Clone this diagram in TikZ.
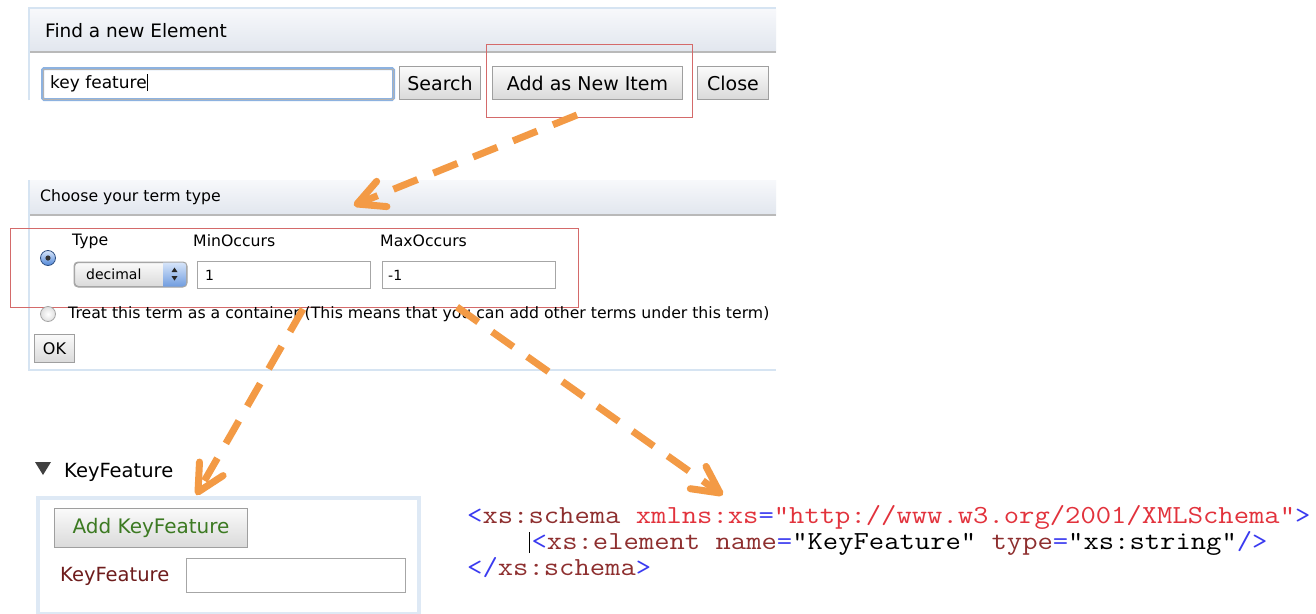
\documentclass[tikz,border=0pt]{standalone}
\usepackage{fontspec}
\setmainfont{DejaVu Sans}
\usetikzlibrary{calc}
\definecolor{arrorange}{HTML}{F39A45}
\definecolor{redbox}{HTML}{D46A6A}
\definecolor{panelblue}{HTML}{D6E4F2}
\definecolor{hdrtop}{HTML}{F7F8FB}
\definecolor{hdrbot}{HTML}{E1E6EE}
\definecolor{btntop}{HTML}{FAFAFA}
\definecolor{btnbot}{HTML}{DADADA}
\definecolor{glowblue}{HTML}{8DB2E0}
\definecolor{radiotop}{HTML}{D8E6FA}
\definecolor{radiobot}{HTML}{4F86D8}
\definecolor{xmlblue}{HTML}{3A3AF0}
\definecolor{xmlbrown}{HTML}{8E2F2F}
\definecolor{xmlred}{HTML}{E2323C}
\definecolor{greentxt}{HTML}{3C7A22}
\definecolor{darkredtxt}{HTML}{6E1C1C}
\tikzset{
  panelhdr/.style={draw=none, top color=hdrtop, bottom color=hdrbot, anchor=north west, inner sep=0pt},
  btn/.style={draw=gray!75, line width=1pt, top color=btntop, bottom color=btnbot, anchor=north west, inner sep=0pt, font=\fontsize{19}{22}\selectfont},
  inbox/.style={draw=gray!70, line width=1.2pt, fill=white, anchor=north west, inner sep=0pt},
  redframe/.style={draw=redbox, line width=1pt, anchor=north west, inner sep=0pt},
  lbl/.style={anchor=west, inner sep=0pt, font=\fontsize{15.7}{18}\selectfont},
  arr/.style={draw=arrorange, line width=7pt, dash pattern=on 26pt off 17pt, shorten >=3pt},
  arrtip/.style={draw=arrorange, line width=7pt, line cap=round, line join=round},
  xmlline/.style={anchor=base west, inner sep=0pt, xscale=1.145, font=\ttfamily\fontsize{26}{26}\selectfont},
}
\begin{document}
\begin{tikzpicture}[x=1pt,y=-1pt]
\useasboundingbox[fill=white] (0,0) rectangle (1316,613);

% ---------- Panel 1 ----------
\draw[panelblue, line width=2pt] (29,100) -- (29,8) -- (776,8);
\node[panelhdr, minimum width=746, minimum height=43] (hdr1) at (30,9) {};
\draw[gray!55, line width=1.2pt] (30,52) -- (776,52);
\node[anchor=west, inner sep=0pt, font=\fontsize{18.5}{21}\selectfont] (t1) at (45,31) {Find a new Element};
\node[draw=glowblue, line width=3pt, rounded corners=1.5pt, fill=white, anchor=north west, inner sep=0pt,
      minimum width=351, minimum height=31] (search_in) at (41,67) {};
\draw[gray!60, line width=0.8pt] ([shift={(2,2)}]search_in.north west) rectangle ([shift={(-2,-2)}]search_in.south east);
\node[anchor=west, inner sep=0pt, font=\fontsize{17}{20}\selectfont] (kf) at (50,83) {key feature\rule[-3pt]{1pt}{17pt}};
\node[btn, minimum width=81, minimum height=33] (searchb) at (399,66) {Search};
\node[btn, minimum width=190, minimum height=33] (addb) at (492,66) {Add as New Item};
\node[btn, minimum width=71, minimum height=33] (closeb) at (697,66) {Close};
\node[redframe, minimum width=206, minimum height=73] (red1) at (486,44) {};

% ---------- Panel 2 ----------
\node[panelhdr, minimum width=747, minimum height=35] (hdr2) at (29,180) {};
\draw[gray!55, line width=1.2pt] (29,215) -- (776,215);
\node[anchor=west, inner sep=0pt, font=\fontsize{15.7}{18}\selectfont] (t2) at (40,197) {Choose your term type};
\draw[panelblue, line width=1.5pt] (29,180) -- (29,370) -- (776,370);
% selected radio
\node[circle, draw=radiobot!60!black, line width=0.8pt, top color=radiotop, bottom color=radiobot, minimum size=15, inner sep=0pt] (radio1) at (48,258) {};
\fill[black!80] (radio1.center) circle (2.6);
\node[lbl] (ltype) at (72,241) {Type};
\node[lbl] (lmin) at (193,241) {MinOccurs};
\node[lbl] (lmax) at (380,241) {MaxOccurs};
% dropdown
\node[draw=gray!70, line width=1pt, rounded corners=4pt, top color=btntop, bottom color=btnbot, anchor=north west, inner sep=0pt,
      minimum width=112, minimum height=24] (dropdown) at (74,262) {};
\begin{scope}
  \clip[rounded corners=4pt] (dropdown.north west) rectangle (dropdown.south east);
  \fill[top color=radiotop, bottom color=radiobot!80] (163,262) rectangle (186,286);
\end{scope}
\draw[gray!70, line width=1pt, rounded corners=4pt] (dropdown.north west) rectangle (dropdown.south east);
\fill[black!85] (174.5,267.5) -- (171.5,272) -- (177.5,272) -- cycle;
\fill[black!85] (174.5,280.5) -- (171.5,276) -- (177.5,276) -- cycle;
\node[anchor=west, inner sep=0pt, font=\fontsize{14}{16}\selectfont] (ddtxt) at (86,274) {decimal};
\node[inbox, minimum width=173, minimum height=27] (minbox) at (197,261) {};
\node[anchor=west, inner sep=0pt, font=\fontsize{14}{16}\selectfont] (minval) at (205,275) {1};
\node[inbox, minimum width=173, minimum height=27] (maxbox) at (382,261) {};
\node[anchor=west, inner sep=0pt, font=\fontsize{14}{16}\selectfont] (maxval) at (388,275) {-1};
\node[redframe, minimum width=568, minimum height=79] (red2) at (10,228) {};
% unselected radio
\node[circle, draw=gray!70, line width=0.8pt, inner color=white, outer color=gray!25, minimum size=15, inner sep=0pt] (radio2) at (48,314) {};
\node[lbl] (treat) at (68,314) {Treat this term as a container (This means that you can add other terms under this term)};
\node[btn, minimum width=40, minimum height=28, font=\fontsize{16}{18}\selectfont] (okb) at (34,334) {OK};

% ---------- Panel 3 ----------
\fill[black!75] (35,462) -- (51,462) -- (43,475) -- cycle;
\node[anchor=west, inner sep=0pt, font=\fontsize{19.5}{22}\selectfont] (kfhead) at (64,472) {KeyFeature};
\node[draw=panelblue!80, line width=4pt, anchor=north west, inner sep=0pt, minimum width=381, minimum height=116] (kfbox) at (36,496) {};
\node[btn, minimum width=193, minimum height=39, font=\fontsize{20}{23}\selectfont, text=greentxt] (addkf) at (54,508) {Add KeyFeature};
\node[anchor=west, inner sep=0pt, font=\fontsize{19.5}{22}\selectfont, text=darkredtxt] (kflabel) at (60,576) {KeyFeature};
\node[inbox, minimum width=219, minimum height=34] (kfin) at (186,558) {};

% ---------- XML ----------
\node[xmlline] (xml1) at (467,523) {\textcolor{xmlblue}{<}\textcolor{xmlbrown}{xs:schema} \textcolor{xmlred}{xmlns:xs}\textcolor{xmlblue}{=}\textcolor{xmlred}{"http://www.w3.org/2001/XMLSchema"}\textcolor{xmlblue}{>}};
\node[xmlline] (xml2) at (529,549) {\rule[-4pt]{1.1pt}{21pt}\kern1pt\textcolor{xmlblue}{<}\textcolor{xmlbrown}{xs:element name}\textcolor{xmlblue}{=}"KeyFeature" \textcolor{xmlbrown}{type}\textcolor{xmlblue}{=}"xs:string"\textcolor{xmlblue}{/>}};
\node[xmlline] (xml3) at (467,575) {\textcolor{xmlblue}{</}\textcolor{xmlbrown}{xs:schema}\textcolor{xmlblue}{>}};

% ---------- Arrows ----------
\coordinate (a1s) at (577,115);
\coordinate (a1e) at (357,204);
\coordinate (a2s) at (303,309);
\coordinate (a2e) at (198,492);
\coordinate (a3s) at (457,307);
\coordinate (a3e) at (720,493);
\draw[arr] (a1s) -- (a1e);
\draw[arr] (a2s) -- (a2e);
\draw[arr] (a3s) -- (a3e);
\draw[arrtip] ($(a1e)!30pt!27:(a1s)$) -- (a1e) -- ($(a1e)!30pt!-27:(a1s)$);
\draw[arrtip] ($(a2e)!30pt!27:(a2s)$) -- (a2e) -- ($(a2e)!30pt!-27:(a2s)$);
\draw[arrtip] ($(a3e)!30pt!27:(a3s)$) -- (a3e) -- ($(a3e)!30pt!-27:(a3s)$);
\end{tikzpicture}
\end{document}
